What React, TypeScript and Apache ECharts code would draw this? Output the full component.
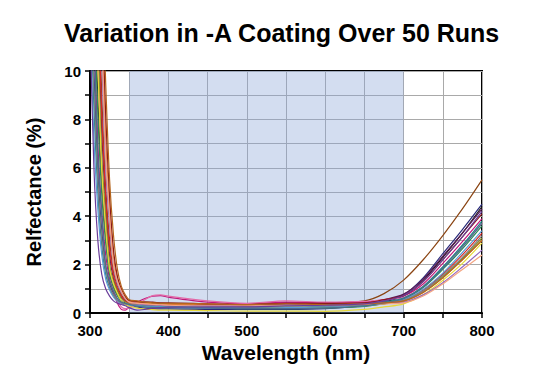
import React, { useEffect, useRef } from "react";
import * as echarts from "echarts";

const wavelengths = [300, 305, 310, 315, 320, 325, 330, 335, 340, 345, 350, 360, 370, 380, 390, 400, 450, 500, 550, 600, 650, 675, 700, 725, 750, 775, 800];

const runColors = [
  "#8B4513", "#1a1a1a", "#2b2b7a", "#5a1a5a", "#c0187c", "#e36aa8", "#d62728", "#e07b39", "#8c8c2a", "#2e8b57",
  "#1f8a8a", "#5b9bd5", "#e6d93a", "#7f7f7f", "#9467bd", "#8b1a1a", "#f4a582", "#4b6c8f", "#b5651d", "#6a3d9a",
];

const run01 = [25, 19.5, 14, 9, 5.2, 3.0, 1.7, 1.1, 0.75, 0.55, 0.45, 0.42, 0.4, 0.4, 0.38, 0.36, 0.33, 0.3, 0.38, 0.4, 0.5, 0.8, 1.36, 2.2, 3.2, 4.3, 5.5];
const run02 = [19.5, 14, 9, 5.5, 3.2, 1.7, 1.1, 0.75, 0.5, 0.4, 0.35, 0.3, 0.28, 0.27, 0.26, 0.25, 0.22, 0.2, 0.2, 0.22, 0.3, 0.45, 0.7, 1.35, 2.3, 3.3, 4.4];
const run03 = [15, 10, 5.8, 3.4, 1.9, 1.2, 0.8, 0.55, 0.42, 0.35, 0.3, 0.25, 0.2, 0.18, 0.17, 0.17, 0.15, 0.15, 0.15, 0.18, 0.3, 0.5, 0.75, 1.45, 2.45, 3.45, 4.5];
const run04 = [23, 17, 12.5, 7.5, 4.5, 2.4, 1.4, 0.95, 0.65, 0.5, 0.45, 0.45, 0.45, 0.43, 0.4, 0.38, 0.35, 0.33, 0.42, 0.4, 0.42, 0.55, 0.78, 1.4, 2.35, 3.3, 4.3];
const run05 = [17, 12, 7, 4.2, 2.4, 1.4, 0.9, 0.4, 0.15, 0.12, 0.25, 0.45, 0.6, 0.7, 0.72, 0.65, 0.45, 0.38, 0.45, 0.42, 0.45, 0.55, 0.7, 1.2, 2.05, 2.95, 3.9];
const run06 = [21, 15, 10.2, 6, 3.6, 1.9, 1.0, 0.55, 0.25, 0.18, 0.2, 0.35, 0.55, 0.72, 0.75, 0.7, 0.5, 0.4, 0.5, 0.45, 0.48, 0.55, 0.65, 1.1, 1.9, 2.8, 3.7];
const run07 = [24, 18, 13.3, 8.2, 4.8, 2.7, 1.55, 1.0, 0.7, 0.5, 0.42, 0.38, 0.35, 0.35, 0.34, 0.33, 0.32, 0.28, 0.33, 0.36, 0.38, 0.45, 0.55, 0.95, 1.6, 2.4, 3.3];
const run08 = [28, 23, 17, 12.5, 7.2, 4.4, 2.3, 1.4, 0.95, 0.65, 0.5, 0.45, 0.4, 0.38, 0.36, 0.35, 0.35, 0.3, 0.28, 0.28, 0.32, 0.38, 0.48, 0.85, 1.45, 2.2, 3.0];
const run09 = [22, 16, 11.5, 6.5, 4.0, 2.0, 1.3, 0.9, 0.6, 0.45, 0.38, 0.32, 0.3, 0.28, 0.28, 0.27, 0.27, 0.23, 0.22, 0.23, 0.28, 0.38, 0.5, 0.9, 1.5, 2.25, 3.1];
const run10 = [18, 13, 8.2, 4.9, 2.9, 1.6, 1.05, 0.7, 0.48, 0.38, 0.33, 0.3, 0.27, 0.26, 0.25, 0.25, 0.22, 0.18, 0.18, 0.2, 0.27, 0.4, 0.58, 1.05, 1.8, 2.65, 3.6];
const run11 = [13.3, 8.5, 5.0, 2.8, 1.6, 1.05, 0.72, 0.5, 0.42, 0.38, 0.35, 0.32, 0.3, 0.3, 0.28, 0.28, 0.25, 0.25, 0.28, 0.28, 0.35, 0.45, 0.62, 1.1, 1.9, 2.8, 3.8];
const run12 = [12, 7.2, 4.3, 2.4, 1.4, 0.95, 0.65, 0.48, 0.4, 0.35, 0.32, 0.3, 0.28, 0.25, 0.25, 0.24, 0.2, 0.2, 0.22, 0.25, 0.3, 0.4, 0.55, 0.98, 1.65, 2.5, 3.4];
const run13 = [21, 15, 10.2, 5.9, 3.5, 1.8, 1.2, 0.8, 0.5, 0.35, 0.28, 0.2, 0.16, 0.14, 0.12, 0.12, 0.1, 0.08, 0.08, 0.07, 0.15, 0.25, 0.38, 0.75, 1.35, 2.05, 2.9];
const run14 = [14, 9.3, 5.5, 3.1, 1.8, 1.1, 0.75, 0.52, 0.42, 0.38, 0.36, 0.35, 0.33, 0.32, 0.31, 0.3, 0.3, 0.26, 0.3, 0.3, 0.35, 0.42, 0.52, 0.9, 1.55, 2.3, 3.2];
const run15 = [26, 21, 15, 10.5, 6.0, 3.6, 1.9, 1.2, 0.85, 0.58, 0.45, 0.38, 0.35, 0.33, 0.32, 0.3, 0.3, 0.3, 0.35, 0.35, 0.38, 0.42, 0.45, 0.75, 1.25, 1.9, 2.6];
const run16 = [29, 24, 18, 13.2, 8.2, 4.8, 2.6, 1.5, 1.0, 0.68, 0.52, 0.48, 0.45, 0.45, 0.42, 0.42, 0.38, 0.35, 0.4, 0.4, 0.42, 0.55, 0.72, 1.3, 2.2, 3.15, 4.1];
const run17 = [27, 22, 16, 11.5, 6.5, 4.0, 2.0, 1.3, 0.9, 0.6, 0.45, 0.4, 0.38, 0.36, 0.34, 0.32, 0.28, 0.3, 0.3, 0.33, 0.36, 0.38, 0.42, 0.7, 1.2, 1.8, 2.4];
const run18 = [16, 11.5, 6.5, 4.0, 2.0, 1.3, 0.9, 0.6, 0.45, 0.4, 0.35, 0.28, 0.24, 0.22, 0.22, 0.21, 0.2, 0.18, 0.18, 0.2, 0.3, 0.42, 0.6, 1.08, 1.85, 2.72, 3.7];
const run19 = [30, 26, 20, 14.5, 9.5, 5.5, 3.2, 1.8, 1.1, 0.75, 0.55, 0.5, 0.45, 0.42, 0.4, 0.4, 0.38, 0.35, 0.38, 0.35, 0.38, 0.42, 0.5, 0.85, 1.45, 2.2, 3.0];
const run20 = [12, 6.0, 3.0, 1.6, 1.0, 0.7, 0.5, 0.4, 0.35, 0.3, 0.22, 0.12, 0.15, 0.2, 0.22, 0.24, 0.25, 0.25, 0.3, 0.32, 0.38, 0.5, 0.72, 1.3, 2.2, 3.15, 4.2];

const runs = [run01, run02, run03, run04, run05, run06, run07, run08, run09, run10,
  run11, run12, run13, run14, run15, run16, run17, run18, run19, run20];

const bandStart = 350;
const bandEnd = 700;
const xTicks = [300, 400, 500, 600, 700, 800];
const yTicks = [0, 2, 4, 6, 8, 10];

export default function App() {
  const ref = useRef<HTMLDivElement>(null);
  useEffect(() => {
    if (!ref.current) return;
    const chart = echarts.init(ref.current, undefined, { renderer: "svg" });
    const font = "Liberation Sans, Arial, sans-serif";
    const series: any[] = runs.map((vals, i) => ({
      type: "line",
      name: "Run " + (i + 1),
      data: wavelengths.map((w, j) => [w, vals[j]]),
      showSymbol: false,
      smooth: 0.3,
      clip: true,
      lineStyle: { width: 1.2, color: runColors[i] },
      z: 3,
    }));
    series.unshift({
      type: "line",
      name: "band",
      data: [],
      silent: true,
      markArea: {
        silent: true,
        itemStyle: { color: "rgba(140,165,215,0.38)" },
        data: [[{ xAxis: bandStart }, { xAxis: bandEnd }]],
      },
      z: 1,
    });
    chart.setOption({
      animation: false,
      backgroundColor: "#fff",
      title: {
        text: "Variation in -A Coating Over 50 Runs",
        left: 59,
        top: 15,
        textStyle: { fontSize: 25, fontWeight: "bold", color: "#000", fontFamily: font },
      },
      grid: {
        left: 90,
        right: 57,
        top: 71,
        bottom: 59,
        show: true,
        borderColor: "#000",
        borderWidth: 2,
        backgroundColor: "transparent",
      },
      xAxis: {
        type: "value",
        min: xTicks[0],
        max: xTicks[xTicks.length - 1],
        interval: 100,
        name: "Wavelength (nm)",
        nameLocation: "middle",
        nameGap: 29,
        nameTextStyle: { fontSize: 21, fontWeight: "bold", color: "#000", fontFamily: font },
        axisLine: { lineStyle: { color: "#000", width: 2 } },
        axisTick: { show: true, length: 5, lineStyle: { color: "#000", width: 1.5 } },
        minorTick: { show: true, splitNumber: 2, length: 5, lineStyle: { color: "#000", width: 1.5 } },
        splitLine: { show: true, lineStyle: { color: "#a9a9a9", width: 1 } },
        minorSplitLine: { show: true, lineStyle: { color: "#a9a9a9", width: 1 } },
        axisLabel: { fontSize: 15, lineHeight: 14, fontWeight: "bold", color: "#000", margin: 10, fontFamily: font },
      },
      yAxis: {
        type: "value",
        min: yTicks[0],
        max: yTicks[yTicks.length - 1],
        interval: 2,
        name: "Relfectance (%)",
        nameLocation: "middle",
        nameGap: 46,
        nameTextStyle: { fontSize: 20, fontWeight: "bold", color: "#000", fontFamily: font },
        axisLine: { show: true, lineStyle: { color: "#000", width: 2 } },
        axisTick: { show: true, length: 5, lineStyle: { color: "#000", width: 1.5 } },
        minorTick: { show: true, splitNumber: 2, length: 5, lineStyle: { color: "#000", width: 1.5 } },
        splitLine: { show: true, lineStyle: { color: "#a9a9a9", width: 1 } },
        minorSplitLine: { show: true, lineStyle: { color: "#a9a9a9", width: 1 } },
        axisLabel: { fontSize: 15, lineHeight: 14, fontWeight: "bold", color: "#000", margin: 9, fontFamily: font },
      },
      series,
    });
    return () => chart.dispose();
  }, []);
  return <div ref={ref} style={{ width: 539, height: 372, position: "fixed", left: 0, top: 0 }} />;
}
